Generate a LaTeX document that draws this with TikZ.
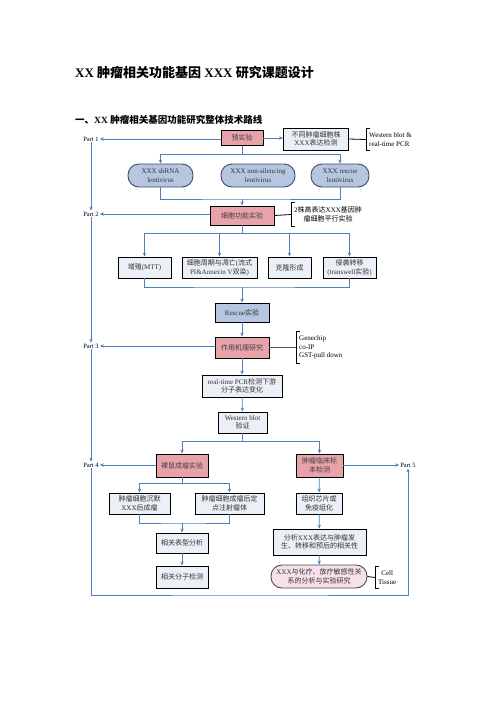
\documentclass[tikz,border=0pt]{standalone}
\usepackage{fontspec}
\setmainfont{Liberation Serif}
\newfontfamily\cjk{Noto Sans CJK SC}
\usetikzlibrary{positioning, arrows.meta, calc}

\newcommand\zh[1]{{\cjk #1}}
\newcommand\boxfont{\fontsize{7}{8.6}\selectfont}
\newcommand\partfont{\fontsize{6.5}{8}\selectfont}

\definecolor{flowblue}{HTML}{4F7FBF}
\definecolor{boxpink}{HTML}{E8A3AA}
\definecolor{boxpale}{HTML}{EBEFF6}
\definecolor{pillblue}{HTML}{B7C6E0}
\definecolor{pillrim}{HTML}{3A4A6A}
\definecolor{chemopink}{HTML}{F6E0EA}

\begin{document}
\begin{tikzpicture}[x=1pt, y=-1pt,
  keybox/.style={draw=black, line width=0.9pt, fill=boxpink, inner sep=1pt,
                 align=center, font=\boxfont, text=black!75},
  stepbox/.style={draw=black, line width=0.9pt, fill=boxpale, inner sep=1pt,
                  align=center, font=\boxfont, text=black!80},
  virus/.style={draw=pillrim, line width=0.9pt, fill=pillblue, rounded corners=11pt,
                inner sep=1pt, align=center, font=\boxfont, text=black!80, minimum height=23pt},
  partlbl/.style={font=\partfont, inner sep=1pt},
  note/.style={anchor=west, inner sep=3pt, font=\boxfont},
  flow/.style={draw=flowblue, line width=0.8pt, -{Stealth[length=4pt, width=3.4pt]}},
  wire/.style={draw=flowblue, line width=0.8pt},
  tie/.style={draw=black, line width=0.8pt},
]
\useasboundingbox (0,0) rectangle (496,702);

% Titles
\node[anchor=west, inner sep=0pt, font=\fontsize{13}{15}\selectfont\bfseries] (title) at (75,73)
  {XX \zh{肿瘤相关功能基因} XXX \zh{研究课题设计}};
\node[anchor=west, inner sep=0pt, font=\fontsize{9.5}{11}\selectfont\bfseries] (subtitle) at (75,120)
  {\zh{一、}XX \zh{肿瘤相关基因功能研究整体技术路线}};

% Part labels
\node[partlbl] (p1) at (91,139) {Part 1};
\node[partlbl] (p2) at (91,214) {Part 2};
\node[partlbl] (p3) at (91,346) {Part 3};
\node[partlbl] (p4) at (91,465) {Part 4};
\node[partlbl] (p5) at (408,465) {Part 5};

% Pre-experiment
\node[keybox, minimum width=42pt, minimum height=15pt] (pre) at (242,138) {\zh{预实验}};
\node[stepbox, minimum width=65pt, minimum height=22pt] (det) at (316,139)
  {\zh{不同肿瘤细胞株}\\XXX\zh{表达检测}};
\node[note, align=left, minimum height=21pt] (wbt) at (366,139.5)
  {Western blot \&\\real-time PCR};

% Lentivirus
\node[virus, minimum width=65pt] (sh) at (160.5,175.5) {XXX shRNA\\lentivirus};
\node[virus, minimum width=74pt] (ns) at (258,175.5) {XXX non-silencing\\lentivirus};
\node[virus, minimum width=58pt] (rs) at (340,175.5) {XXX rescue\\lentivirus};

% Cell function
\node[keybox, minimum width=64pt, minimum height=19pt] (func) at (242,215.5) {\zh{细胞功能实验}};
\node[note, align=center, minimum height=23pt] (celltxt) at (291,214.5)
  {2\zh{株高表达}XXX\zh{基因肿}\\\zh{瘤细胞平行实验}};

\node[stepbox, minimum width=53pt, minimum height=21pt] (mtt) at (144.5,267.5) {\zh{增殖}(MTT)};
\node[stepbox, minimum width=75pt, minimum height=21pt] (cyc) at (219.5,267.5)
  {\zh{细胞周期与凋亡}(\zh{流式}\\PI\&Annexin V\zh{双染})};
\node[stepbox, minimum width=43pt, minimum height=21pt] (clone) at (289.5,267.5) {\zh{克隆形成}};
\node[stepbox, minimum width=53pt, minimum height=21pt] (inv) at (349.5,267.5)
  {\zh{侵袭转移}\\(transwell\zh{实验})};

% Rescue and mechanism
\node[stepbox, fill=pillblue, minimum width=54pt, minimum height=19pt] (rescue) at (242,312.5)
  {Rescue\zh{实验}};
\node[keybox, minimum width=54pt, minimum height=21pt] (mech) at (242,347.5) {\zh{作用机理研究}};
\node[note, align=left, minimum height=31pt] (mtxt) at (296,347.5)
  {Genechip\\co-IP\\GST-pull down};

\node[stepbox, minimum width=80pt, minimum height=22pt] (pcr) at (242,386)
  {real-time PCR\zh{检测下游}\\\zh{分子表达变化}};
\node[stepbox, minimum width=49pt, minimum height=21pt] (wbv) at (242.5,422.5)
  {Western blot\\\zh{验证}};

% Animal branch
\node[keybox, minimum width=52pt, minimum height=23pt] (mouse) at (182,465.5) {\zh{裸鼠成瘤实验}};
\node[stepbox, minimum width=61pt, minimum height=21pt] (sil) at (139.5,503.5)
  {\zh{肿瘤细胞沉默}\\XXX\zh{后成瘤}};
\node[stepbox, minimum width=69pt, minimum height=21pt] (inj) at (229.5,503.5)
  {\zh{肿瘤细胞成瘤后定}\\\zh{点注射瘤体}};
\node[stepbox, minimum width=52pt, minimum height=20pt] (phen) at (182,543) {\zh{相关表型分析}};
\node[stepbox, minimum width=52pt, minimum height=22pt] (mol) at (182,577) {\zh{相关分子检测}};

% Clinical branch
\node[keybox, minimum width=47pt, minimum height=23pt] (clin) at (319.5,465.5)
  {\zh{肿瘤临床标}\\\zh{本检测}};
\node[stepbox, minimum width=46pt, minimum height=21pt] (tma) at (319,503.5)
  {\zh{组织芯片或}\\\zh{免疫组化}};
\node[stepbox, minimum width=93pt, minimum height=26pt] (corr) at (319.5,542)
  {\zh{分析}XXX\zh{表达与肿瘤发}\\\zh{生、转移和预后的相关性}};
\node[virus, draw=black!70, fill=chemopink, minimum width=96pt, minimum height=23pt] (chemo) at (319,576.5)
  {XXX\zh{与化疗、放疗敏感性关}\\\zh{系的分析与实验研究}};
\node[note, align=center, minimum height=21pt] (ctxt) at (375,577.5) {Cell\\Tissue};

% Brackets
\foreach \n in {wbt, celltxt, mtxt, ctxt}
  \draw[tie] ([xshift=4pt]\n.north west) -- (\n.north west) -- (\n.south west) -- ([xshift=4pt]\n.south west);
\draw[tie] (det.east) -- (wbt.west);
\draw[tie] (func.east) -- (celltxt.west);
\draw[tie, draw=black!65] (mech.east) -- (mtxt.west);
\draw[tie] (chemo.east) -- (ctxt.west);

% Main flow
\draw[flow] (pre.east) -- (det.west |- pre.east);
\draw[flow] (pre.south) -- ++(0,8) -| (sh.north);
\draw[flow] (pre.south) -- ++(0,8) -| (rs.north);
\coordinate (j1) at (242,199);
\draw[wire] (sh.south) |- (j1) -| (rs.south);
\draw[flow] (j1) -- (func.north);

\foreach \b in {mtt, cyc, clone, inv}
  \draw[flow] (func.south) -- ++(0,8) -| (\b.north);
\coordinate (j2) at (242,287);
\draw[wire] (mtt.south) |- (j2) -| (inv.south);
\draw[flow] (j2) -- (rescue.north);

\draw[flow] (rescue) -- (mech);
\draw[flow] (mech) -- (pcr);
\draw[flow] (pcr) -- (wbv);
\draw[flow] (wbv.south) -- ++(0,8) -| (mouse.north);
\draw[flow] (wbv.south) -- ++(0,8) -| (clin.north);

\draw[flow] (mouse.south) -- ++(0,6) -| (sil.north);
\draw[flow] (mouse.south) -- ++(0,6) -| (inj.north);
\coordinate (j3) at (182,523);
\draw[wire] (sil.south) |- (j3) -| (inj.south);
\draw[flow] (j3) -- (phen.north);
\draw[flow] (phen) -- (mol);

\draw[flow] (clin) -- (tma);
\draw[flow] (tma) -- (corr);
\draw[flow] (corr) -- (chemo);

% Part arrows
\draw[flow] (pre.west |- p1) -- (p1.east);
\draw[flow] (func.west |- p2) -- (p2.east);
\draw[flow] (mech.west |- p3) -- (p3.east);
\draw[flow] (mouse.west |- p4) -- (p4.east);
\draw[flow] (clin.east |- p5) -- (p5.west);

\draw[flow] (p1) -- (p2);
\draw[flow] (p2) -- (p3);
\draw[flow] (p3) -- (p4);
\coordinate (floor) at (250,595);
\draw[flow] (p4.south) |- (floor) -| (p5.south);

\end{tikzpicture}
\end{document}
